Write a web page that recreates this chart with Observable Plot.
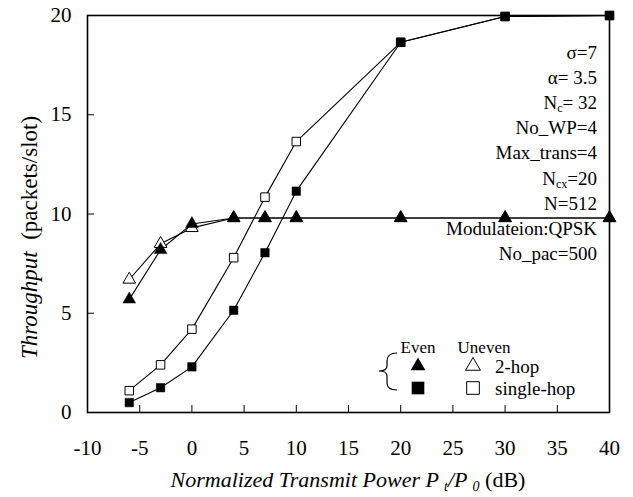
<!DOCTYPE html>
<html>
<head>
<meta charset="utf-8">
<script src="https://cdn.jsdelivr.net/npm/d3@7"></script>
<script src="https://cdn.jsdelivr.net/npm/@observablehq/plot@0.6"></script>
<style>
  html, body { margin: 0; padding: 0; background: #fff; }
  svg { display: block; }
</style>
</head>
<body>
<div id="chart"></div>
<script>
// ---- data ----
const power = [-6, -3, 0, 4, 7, 10, 20, 30, 40];
const twoHopEven = [5.7, 8.2, 9.5, 9.8, 9.8, 9.8, 9.8, 9.8, 9.8];
const twoHopUneven = [6.7, 8.5, 9.3, 9.8, 9.8, 9.8, 9.8, 9.8, 9.8];
const singleHopEven = [0.5, 1.25, 2.3, 5.15, 8.05, 11.15, 18.65, 19.95, 20];
const singleHopUneven = [1.1, 2.4, 4.2, 7.8, 10.85, 13.65, 18.65, 19.95, 20];
const xTicks = [-10, -5, 0, 5, 10, 15, 20, 25, 30, 35, 40];
const yTicks = [0, 5, 10, 15, 20];
const legendHeader = ["Even", "Uneven"];
const legendLabels = ["2-hop", "single-hop"];

const toRows = (vals) => power.map((p, i) => ({x: p, y: vals[i]}));
const tE = toRows(twoHopEven), tU = toRows(twoHopUneven);
const sE = toRows(singleHopEven), sU = toRows(singleHopUneven);

const FONT = "Liberation Serif";
const rTri = 4.7, rSq = 4.8;

const chart = Plot.plot({
  width: 633,
  height: 497,
  marginLeft: 87,
  marginRight: 24,
  marginTop: 15,
  marginBottom: 85,
  style: {fontSize: "21px", background: "#fff", color: "#000"},
  x: {domain: [-10, 40]},
  y: {domain: [0, 20]},
  marks: [
    Plot.axisX(xTicks, {tickSize: -7, fill: null, label: null, strokeWidth: 1}),
    Plot.axisX(xTicks, {tickSize: 0, tickPadding: 28, label: null, tickFormat: d => String(d)}),
    Plot.axisY(yTicks, {tickSize: -7, fill: null, label: null, strokeWidth: 1}),
    Plot.axisY(yTicks, {tickSize: 0, tickPadding: 16, label: null}),
    Plot.line(tU, {x: "x", y: "y", stroke: "#000", strokeWidth: 1.1}),
    Plot.line(tE, {x: "x", y: "y", stroke: "#000", strokeWidth: 1.1}),
    Plot.line(sU, {x: "x", y: "y", stroke: "#000", strokeWidth: 1.1}),
    Plot.line(sE, {x: "x", y: "y", stroke: "#000", strokeWidth: 1.1}),
    Plot.frame({stroke: "#000", strokeWidth: 1.6}),
    Plot.dot(tU, {x: "x", y: "y", symbol: "triangle", r: rTri, fill: "#fff", stroke: "#000", strokeWidth: 1}),
    Plot.dot(sU, {x: "x", y: "y", symbol: "square", r: rSq, fill: "#fff", stroke: "#000", strokeWidth: 1}),
    Plot.dot(tE, {x: "x", y: "y", symbol: "triangle", r: rTri, fill: "#000", stroke: "#000", strokeWidth: 0.5}),
    Plot.dot(sE, {x: "x", y: "y", symbol: "square", r: rSq, fill: "#000", stroke: "#000", strokeWidth: 0.5})
  ]
});
document.getElementById("chart").appendChild(chart);

// ---- extra text: titles, parameters, legend ----
const xs = chart.scale("x"), ys = chart.scale("y");
const svg = d3.select(chart);
const g = svg.append("g").attr("fill", "#000").attr("text-anchor", "start");

// x title
const xt = g.append("text").attr("x", (xs.apply(-10) + xs.apply(40)) / 2).attr("y", 487)
  .attr("text-anchor", "middle").attr("font-size", 22);
xt.append("tspan").attr("font-style", "italic").text("Normalized Transmit Power P ");
xt.append("tspan").attr("font-style", "italic").attr("font-size", 14).attr("dy", 4).text("t");
xt.append("tspan").attr("font-style", "italic").attr("dy", -4).text("/P ");
xt.append("tspan").attr("font-style", "italic").attr("font-size", 14).attr("dy", 4).text("0");
xt.append("tspan").attr("dy", -4).text(" (dB)");

// y title
const yt = g.append("text").attr("transform", `translate(37,${(ys.apply(0) + ys.apply(20)) / 2 + 24}) rotate(-90)`)
  .attr("text-anchor", "middle").attr("font-size", 23).attr("xml:space", "preserve");
yt.append("tspan").attr("font-style", "italic").text("Throughput");
yt.append("tspan").text("  (packets/slot)");

// parameter block
const params = [
  [["σ=7"]],
  [["α= 3.5"]],
  [["N"], ["c", "sub"], ["= 32"]],
  [["No_WP=4"]],
  [["Max_trans=4"]],
  [["N"], ["cx", "sub"], ["=20"]],
  [["N=512"]],
  [["Modulateion:QPSK"]],
  [["No_pac=500"]]
];
const px = xs.apply(40) - 12;
params.forEach((parts, i) => {
  const t = g.append("text").attr("x", px).attr("y", 59 + i * 25.1)
    .attr("text-anchor", "end").attr("font-size", 19).attr("xml:space", "preserve");
  let shifted = false;
  parts.forEach(([s, kind]) => {
    const ts = t.append("tspan").text(s);
    if (kind === "sub") { ts.attr("font-size", 12).attr("dy", 3); shifted = true; }
    else if (shifted) { ts.attr("dy", -3); shifted = false; }
  });
});

// legend
const lx1 = 418, lx2 = 473, ly1 = 366, ly2 = 388;
g.append("text").attr("x", lx1).attr("y", 353).attr("text-anchor", "middle").attr("font-size", 17).text(legendHeader[0]);
g.append("text").attr("x", lx2 + 11).attr("y", 353).attr("text-anchor", "middle").attr("font-size", 17).text(legendHeader[1]);
const tri = d3.symbol(d3.symbolTriangle, 95)();
const sq = d3.symbol(d3.symbolSquare, 160)();
g.append("path").attr("d", tri).attr("transform", `translate(${lx1},${ly1})`).attr("fill", "#000");
g.append("path").attr("d", tri).attr("transform", `translate(${lx2},${ly1})`).attr("fill", "#fff").attr("stroke", "#000");
g.append("path").attr("d", sq).attr("transform", `translate(${lx1},${ly2})`).attr("fill", "#000");
g.append("path").attr("d", sq).attr("transform", `translate(${lx2},${ly2})`).attr("fill", "#fff").attr("stroke", "#000");
g.append("text").attr("x", 495).attr("y", ly1 + 7).attr("text-anchor", "start").attr("font-size", 19).text(legendLabels[0]);
g.append("text").attr("x", 495).attr("y", ly2 + 7).attr("text-anchor", "start").attr("font-size", 19).text(legendLabels[1]);
// brace
g.append("path")
  .attr("d", "M397,353 Q387,353 387,361 L387,366 Q387,371 379,371 Q387,371 387,376 L387,383 Q387,390 397,390")
  .attr("fill", "none").attr("stroke", "#000").attr("stroke-width", 1.2);

// force the serif face on every text element
svg.selectAll("text, tspan").attr("font-family", FONT).style("font-family", FONT);
svg.attr("font-family", FONT).style("font-family", FONT);
</script>
</body>
</html>
